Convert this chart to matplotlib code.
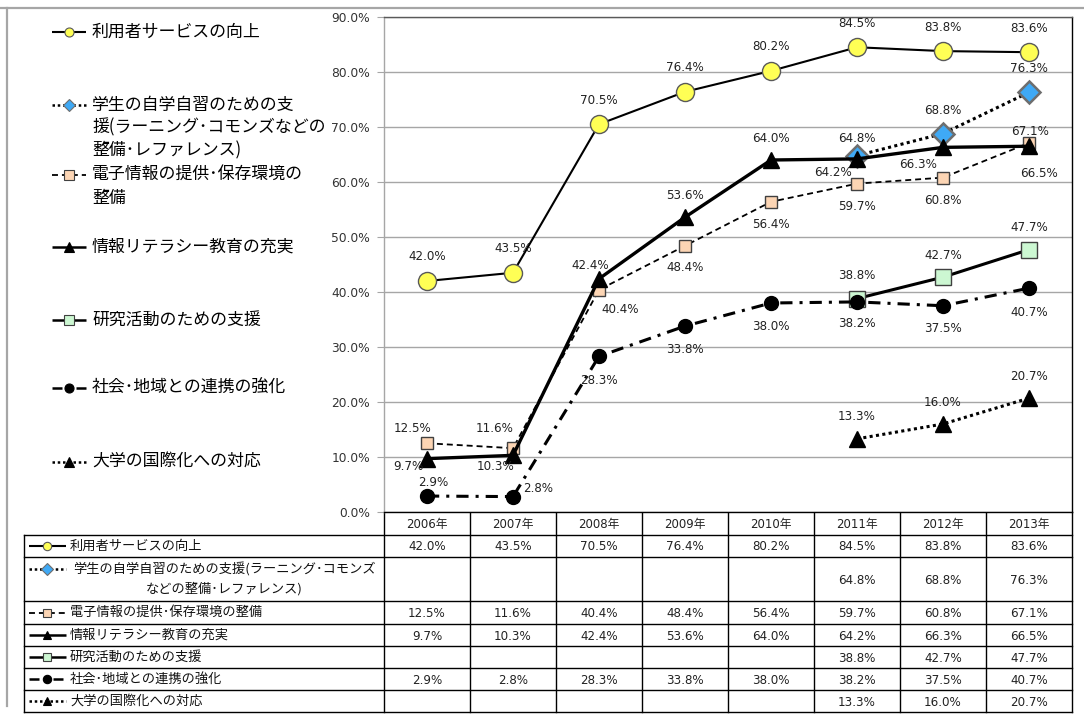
import numpy as np
import matplotlib
matplotlib.use('Agg')
import matplotlib.pyplot as plt
from matplotlib.lines import Line2D

# ---------------- data ----------------
years = ['2006年', '2007年', '2008年', '2009年', '2010年', '2011年', '2012年', '2013年']
nan = np.nan
s_user = [42.0, 43.5, 70.5, 76.4, 80.2, 84.5, 83.8, 83.6]
s_student = [nan, nan, nan, nan, nan, 64.8, 68.8, 76.3]
s_elec = [12.5, 11.6, 40.4, 48.4, 56.4, 59.7, 60.8, 67.1]
s_lit = [9.7, 10.3, 42.4, 53.6, 64.0, 64.2, 66.3, 66.5]
s_research = [nan, nan, nan, nan, nan, 38.8, 42.7, 47.7]
s_social = [2.9, 2.8, 28.3, 33.8, 38.0, 38.2, 37.5, 40.7]
s_intl = [nan, nan, nan, nan, nan, 13.3, 16.0, 20.7]

legend_names = [
    '利用者サービスの向上',
    '学生の自学自習のための支\n援(ラーニング･コモンズなどの\n整備･レファレンス)',
    '電子情報の提供･保存環境の\n整備',
    '情報リテラシー教育の充実',
    '研究活動のための支援',
    '社会･地域との連携の強化',
    '大学の国際化への対応',
]
table_names = [
    '利用者サービスの向上',
    '学生の自学自習のための支援(ラーニング･コモンズ\nなどの整備･レファレンス)',
    '電子情報の提供･保存環境の整備',
    '情報リテラシー教育の充実',
    '研究活動のための支援',
    '社会･地域との連携の強化',
    '大学の国際化への対応',
]
yticks = [0, 10, 20, 30, 40, 50, 60, 70, 80, 90]

series = [s_user, s_student, s_elec, s_lit, s_research, s_social, s_intl]

# ---------------- styles / layout ----------------
JP = ['Noto Sans CJK JP', 'DejaVu Sans']
NUM = ['DejaVu Sans', 'Noto Sans CJK JP']

styles = [
    dict(color='black', lw=1.5, ls='-', marker='o', ms=13, mfc='#FFFF55', mec='#595959', mew=1),
    dict(color='black', lw=2.2, ls=(0, (1, 1.1)), marker='D', ms=11, mfc='#3FA9F5', mec='#6E6E6E', mew=1.8),
    dict(color='black', lw=1.3, ls=(0, (3.3, 2.2)), marker='s', ms=9, mfc='#FCD5B4', mec='#404040', mew=1),
    dict(color='black', lw=2.4, ls='-', marker='^', ms=12, mfc='black', mec='black', mew=1),
    dict(color='black', lw=2.2, ls='-', marker='s', ms=11, mfc='#CCF7D2', mec='#404040', mew=1),
    dict(color='black', lw=2.2, ls=(0, (4, 2.3, 1, 2.3)), marker='o', ms=10, mfc='black', mec='black', mew=1),
    dict(color='black', lw=2.2, ls=(0, (1, 1.1)), marker='^', ms=12, mfc='black', mec='black', mew=1),
]

# label offsets in pixels (dx, dy up-positive)
offsets = [
    [(0, 24)] * 8,
    [None] * 5 + [(0, 17), (0, 23), (0, 24)],
    [(-14, 15), (-18, 20), (21, -20), (0, -22), (0, -23), (0, -23), (0, -23), (1, 11)],
    [(-19, -8), (-17, -11), (-9, 13), (0, 22), (0, 22), (-24, -14), (-25, -17), (10, -27)],
    [None] * 5 + [(0, 23), (0, 22), (0, 22)],
    [(6, 14), (25, 8), (0, -24), (0, -23), (0, -24), (0, -22), (0, -23), (0, -24)],
    [None] * 5 + [(0, 22), (0, 22), (0, 22)],
]

W, H = 1084, 714
fig = plt.figure(figsize=(W / 100, H / 100), dpi=100)
fig.patch.set_facecolor('white')

def fx(px):
    return px / W

def fy(py):
    return 1 - py / H

ov = fig.add_axes([0, 0, 1, 1], zorder=0)
ov.set_xlim(0, W)
ov.set_ylim(H, 0)
ov.axis('off')

L, R, T, B = 384, 1072, 17, 512
ax = fig.add_axes([fx(L), fy(B), fx(R) - fx(L), fy(T) - fy(B)], zorder=1)
x = np.arange(len(years))
ax.set_xlim(-0.5, len(years) - 0.5)
ax.set_ylim(0, 90)
ax.set_yticks(yticks)
ax.set_yticklabels([f'{v:.1f}%' for v in yticks], family=NUM)
ax.set_xticks([])
ax.grid(axis='y', color='#A6A6A6', lw=1)
ax.set_axisbelow(True)
ax.spines['left'].set_color('#A6A6A6')
ax.spines['top'].set_color('#5A5A5A')
ax.spines['right'].set_color('black')
ax.spines['bottom'].set_color('black')
for s in ax.spines.values():
    s.set_linewidth(1)
ax.tick_params(axis='y', length=5, color='#A6A6A6', labelsize=8.8, pad=5, labelcolor='#333333')

for vals, st, offs in zip(series, styles, offsets):
    ax.plot(x, vals, linestyle=st['ls'], color=st['color'], lw=st['lw'],
            marker=st['marker'], ms=st['ms'], mfc=st['mfc'], mec=st['mec'], mew=st['mew'],
            solid_capstyle='butt', dash_capstyle='butt')
    for i, v in enumerate(vals):
        if np.isnan(v) or offs[i] is None:
            continue
        dx, dy = offs[i]
        ax.annotate(f'{v:.1f}%', (x[i], v), xytext=(dx, dy), textcoords='offset pixels',
                    ha='center', va='center', fontsize=8.6, color='#222222',
                    family=NUM, annotation_clip=False, zorder=10)

# ---------------- outer frame ----------------
ov.plot([0, W], [8, 8], color='#A6A6A6', lw=1.6)
ov.plot([7, 7], [8, 706], color='#A6A6A6', lw=1.6)

# ---------------- left legend ----------------
leg_y = [32, 105, 175, 247, 320, 388, 462]
for name, st, y0 in zip(legend_names, styles, leg_y):
    ov.add_line(Line2D([52, 86], [y0, y0], linestyle=st['ls'], color='black',
                       lw=min(st['lw'], 1.8), solid_capstyle='butt'))
    ov.add_line(Line2D([69], [y0], marker=st['marker'], ms=6.5, mfc=st['mfc'],
                       mec=st['mec'], mew=0.8, linestyle='none'))
    for k, line in enumerate(name.split('\n')):
        ov.text(92, y0 + k * 22.5, line, fontsize=12.2, family=JP, ha='left', va='center',
                color='black')

# ---------------- data table ----------------
col_w = (R - L) / len(years)
row_edges = [512, 535, 557, 601, 624, 646, 668, 690, 712]
TL = 24
for j in range(len(years) + 1):
    ov.plot([L + j * col_w] * 2, [row_edges[0], row_edges[-1]], color='black', lw=1)
for j, yr in enumerate(years):
    ov.text(L + (j + 0.5) * col_w, (row_edges[0] + row_edges[1]) / 2 + 1, yr,
            fontsize=8.5, family=NUM, ha='center', va='center', color='#222222')
for r in range(1, len(row_edges)):
    ov.plot([TL, R], [row_edges[r]] * 2, color='black', lw=1)
ov.plot([TL, TL], [row_edges[1], row_edges[-1]], color='black', lw=1)

for r, (name, st, vals) in enumerate(zip(table_names, styles, series)):
    y_top, y_bot = row_edges[r + 1], row_edges[r + 2]
    yc = (y_top + y_bot) / 2
    lines = name.split('\n')
    key_y = yc if len(lines) == 1 else y_top + 12
    ov.add_line(Line2D([29, 66], [key_y, key_y], linestyle=st['ls'], color='black',
                       lw=min(st['lw'], 1.8), solid_capstyle='butt'))
    ov.add_line(Line2D([47], [key_y], marker=st['marker'], ms=6, mfc=st['mfc'],
                       mec=st['mec'], mew=0.8, linestyle='none'))
    if len(lines) == 1:
        ov.text(70, yc, lines[0], fontsize=9.5, family=JP, ha='left', va='center', color='#111111')
    else:
        for k, line in enumerate(lines):
            ov.text(224, y_top + 12 + k * 20, line, fontsize=9.5, family=JP,
                    ha='center', va='center', color='#111111')
    for j, v in enumerate(vals):
        if not np.isnan(v):
            ov.text(L + (j + 0.5) * col_w, yc + 1, f'{v:.1f}%', fontsize=8.6, family=NUM,
                    ha='center', va='center', color='#222222')

fig.savefig('out.png', dpi=100, facecolor='white')
